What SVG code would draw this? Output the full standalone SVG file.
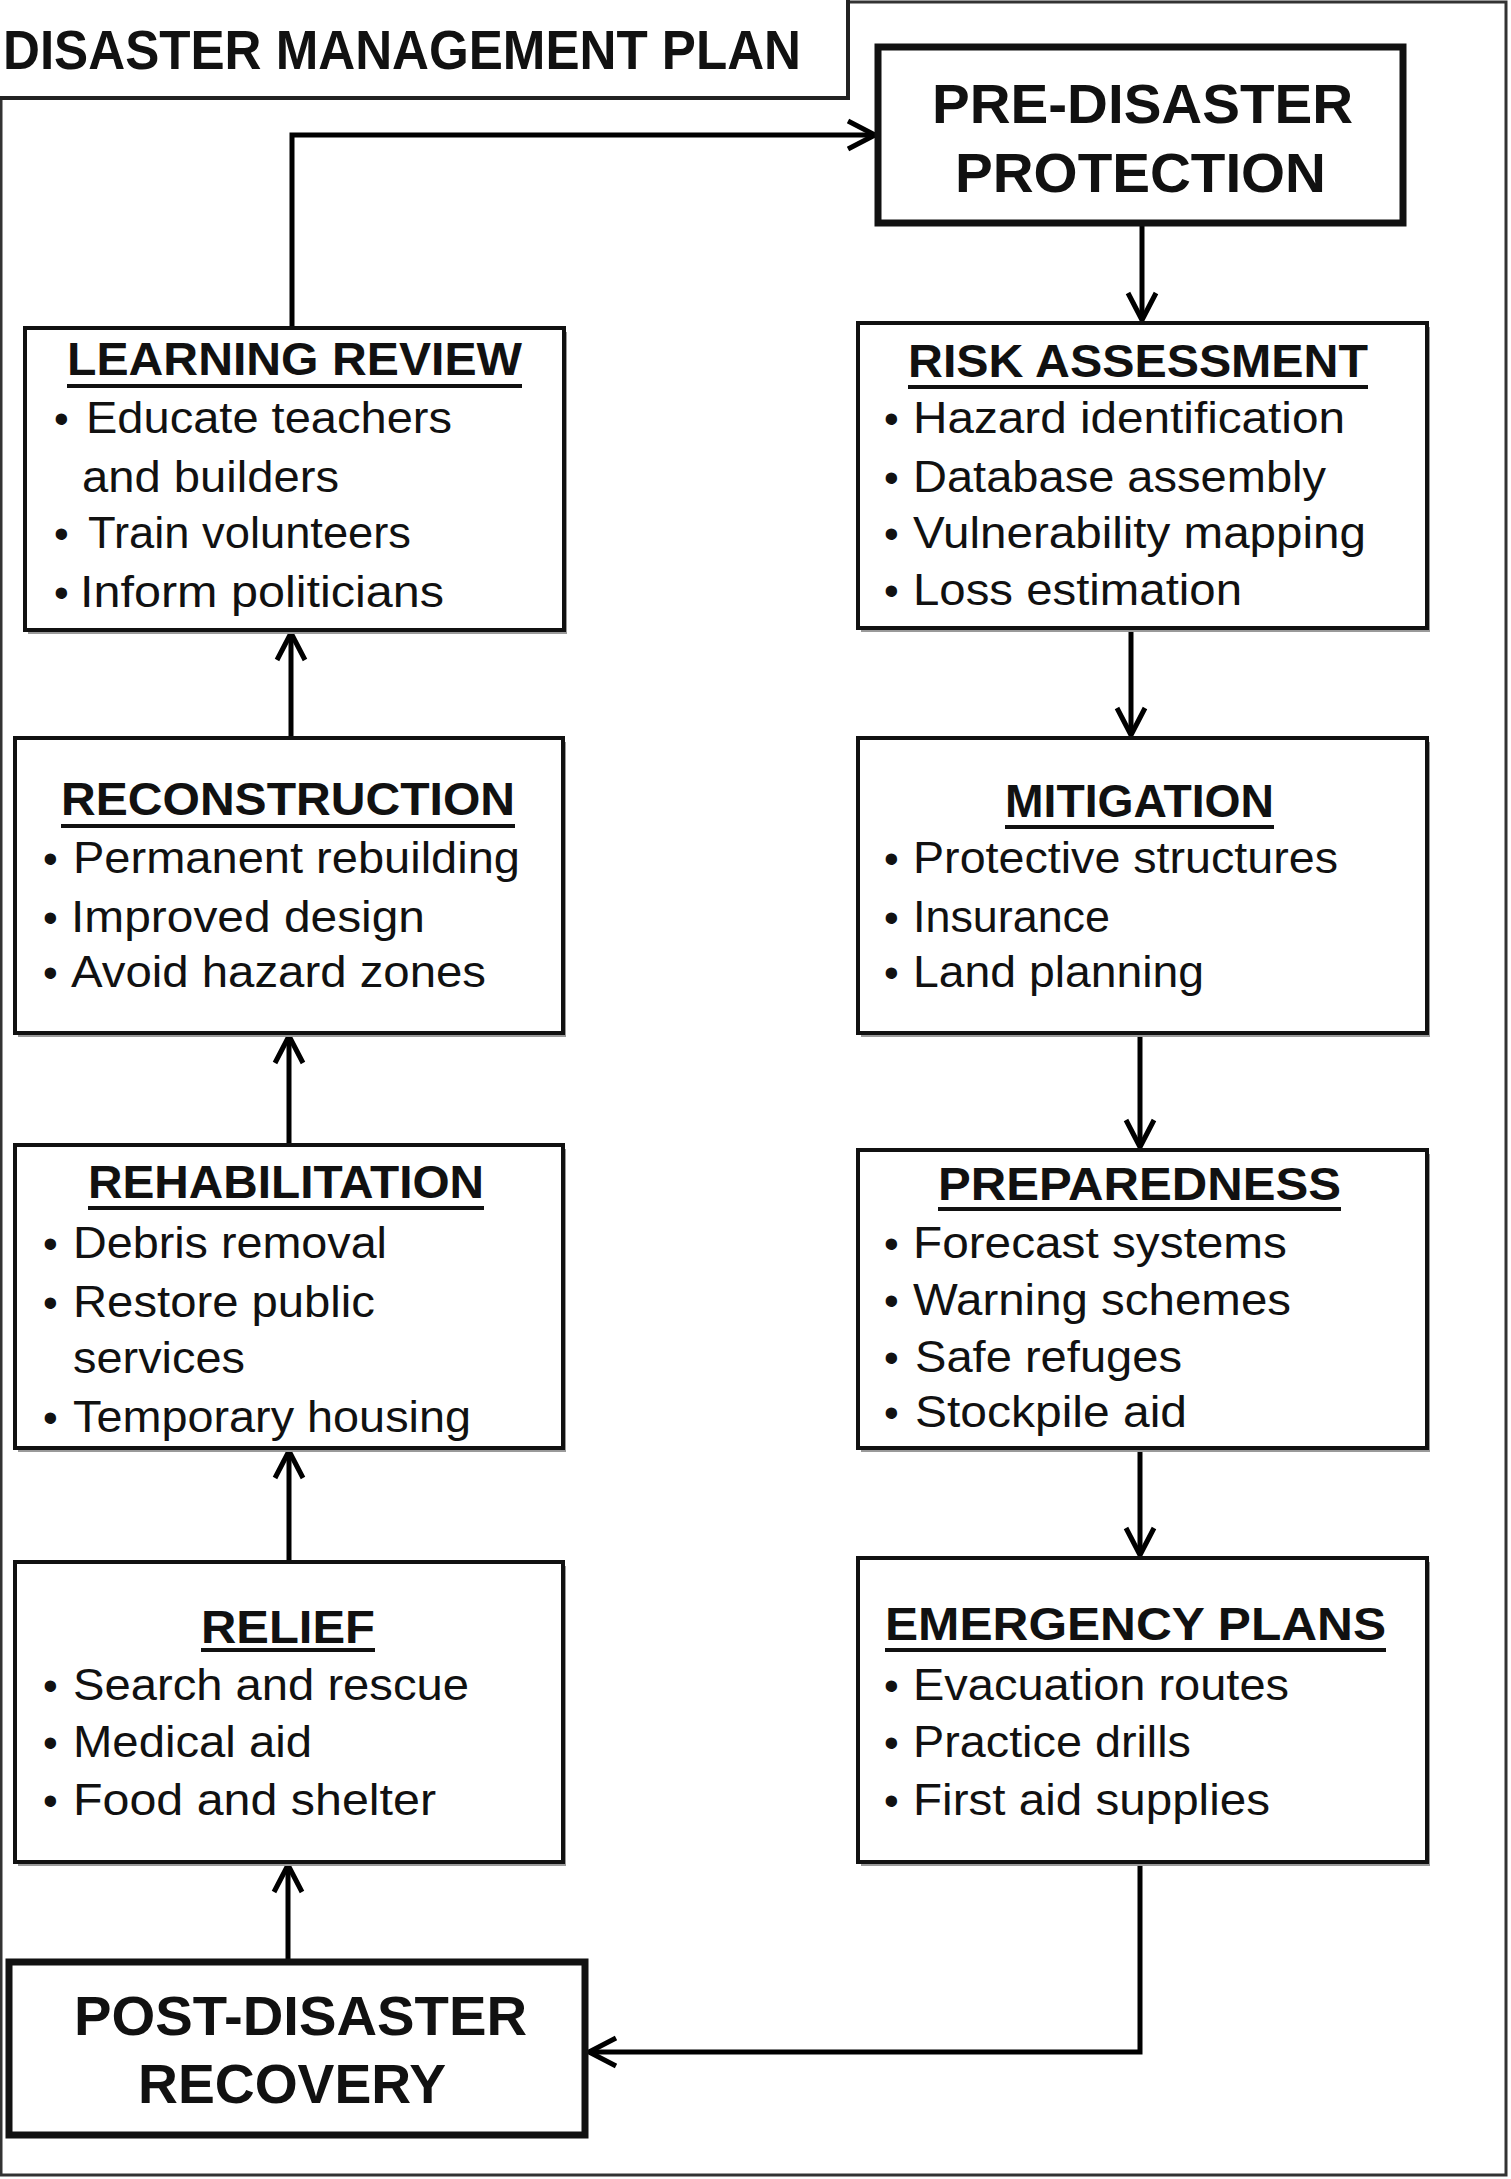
<svg xmlns="http://www.w3.org/2000/svg" width="1511" height="2179" viewBox="0 0 1511 2179">
<defs>
<style>
.box{fill:#fff;stroke:#111;stroke-width:4}
.bigbox{fill:#fff;stroke:#111;stroke-width:7}
.shadow{fill:#9a9a9a}
.head{font-family:"Liberation Sans",Arial,sans-serif;font-weight:bold;font-size:46px;fill:#111}
.big{font-family:"Liberation Sans",Arial,sans-serif;font-weight:bold;font-size:56px;fill:#111}
.item{font-family:"Liberation Sans",Arial,sans-serif;font-size:44px;fill:#111}
.bul{font-family:"Liberation Sans",Arial,sans-serif;font-size:42px;fill:#111}
.ul{stroke:#111;stroke-width:4}
.conn{fill:none;stroke:#000;stroke-width:5}
</style>
<marker id="arr" markerUnits="userSpaceOnUse" markerWidth="40" markerHeight="40" refX="30" refY="17" orient="auto">
<path d="M3,3 L30,17 L3,31" fill="none" stroke="#000" stroke-width="5"/>
</marker>
</defs>
<rect x="0" y="0" width="1511" height="2179" fill="#fff"/>
<rect x="1" y="2" width="1505" height="2173" fill="none" stroke="#333" stroke-width="3"/>

<g id="title">
<rect x="-10" y="-10" width="858" height="108" fill="#fff" stroke="#222" stroke-width="4"/>
<text class="big" x="3" y="69" font-size="54" textLength="798" lengthAdjust="spacingAndGlyphs">DISASTER  MANAGEMENT  PLAN</text>
</g>

<g id="connectors">
<path class="conn" d="M292,328 V135 H875" marker-end="url(#arr)"/>
<path class="conn" d="M1142,226 V320" marker-end="url(#arr)"/>
<path class="conn" d="M1131,628 V735" marker-end="url(#arr)"/>
<path class="conn" d="M1140,1033 V1147" marker-end="url(#arr)"/>
<path class="conn" d="M1140,1448 V1555" marker-end="url(#arr)"/>
<path class="conn" d="M1140,1862 V2052 H589" marker-end="url(#arr)"/>
<path class="conn" d="M288,1959 V1865" marker-end="url(#arr)"/>
<path class="conn" d="M289,1562 V1451" marker-end="url(#arr)"/>
<path class="conn" d="M289,1145 V1036" marker-end="url(#arr)"/>
<path class="conn" d="M291,738 V633" marker-end="url(#arr)"/>
</g>

<g id="pre-disaster">
<rect class="bigbox" x="878" y="47" width="525" height="176"/>
<text class="big" x="932" y="123" textLength="421" lengthAdjust="spacingAndGlyphs">PRE-DISASTER</text>
<text class="big" x="955" y="192" textLength="371" lengthAdjust="spacingAndGlyphs">PROTECTION</text>
</g>

<g id="learning-review">
<rect class="shadow" x="28" y="332" width="539" height="302"/>
<rect class="box" x="25" y="328" width="539" height="302"/>
<text class="head" x="67" y="375" textLength="455" lengthAdjust="spacingAndGlyphs">LEARNING REVIEW</text>
<line class="ul" x1="67" y1="386" x2="522" y2="386"/>
<text class="bul" x="54" y="433">•</text>
<text class="item" x="86" y="433" textLength="366" lengthAdjust="spacingAndGlyphs">Educate teachers</text>
<text class="item" x="82" y="492" textLength="257" lengthAdjust="spacingAndGlyphs">and builders</text>
<text class="bul" x="54" y="548">•</text>
<text class="item" x="88" y="548" textLength="323" lengthAdjust="spacingAndGlyphs">Train volunteers</text>
<text class="bul" x="54" y="607">•</text>
<text class="item" x="80" y="607" textLength="364" lengthAdjust="spacingAndGlyphs">Inform  politicians</text>
</g>

<g id="risk-assessment">
<rect class="shadow" x="861" y="327" width="569" height="305"/>
<rect class="box" x="858" y="323" width="569" height="305"/>
<text class="head" x="908" y="377" textLength="460" lengthAdjust="spacingAndGlyphs">RISK ASSESSMENT</text>
<line class="ul" x1="908" y1="387" x2="1368" y2="387"/>
<text class="bul" x="884" y="433">•</text>
<text class="item" x="913" y="433" textLength="432" lengthAdjust="spacingAndGlyphs">Hazard identification</text>
<text class="bul" x="884" y="492">•</text>
<text class="item" x="913" y="492" textLength="413" lengthAdjust="spacingAndGlyphs">Database assembly</text>
<text class="bul" x="884" y="548">•</text>
<text class="item" x="913" y="548" textLength="453" lengthAdjust="spacingAndGlyphs">Vulnerability  mapping</text>
<text class="bul" x="884" y="605">•</text>
<text class="item" x="913" y="605" textLength="329" lengthAdjust="spacingAndGlyphs">Loss estimation</text>
</g>

<g id="reconstruction">
<rect class="shadow" x="18" y="742" width="548" height="295"/>
<rect class="box" x="15" y="738" width="548" height="295"/>
<text class="head" x="61" y="815" textLength="454" lengthAdjust="spacingAndGlyphs">RECONSTRUCTION</text>
<line class="ul" x1="61" y1="826" x2="515" y2="826"/>
<text class="bul" x="43" y="873">•</text>
<text class="item" x="73" y="873" textLength="447" lengthAdjust="spacingAndGlyphs">Permanent rebuilding</text>
<text class="bul" x="43" y="932">•</text>
<text class="item" x="71" y="932" textLength="354" lengthAdjust="spacingAndGlyphs">Improved  design</text>
<text class="bul" x="43" y="987">•</text>
<text class="item" x="71" y="987" textLength="415" lengthAdjust="spacingAndGlyphs">Avoid hazard  zones</text>
</g>

<g id="mitigation">
<rect class="shadow" x="861" y="742" width="569" height="295"/>
<rect class="box" x="858" y="738" width="569" height="295"/>
<text class="head" x="1005" y="817" textLength="269" lengthAdjust="spacingAndGlyphs">MITIGATION</text>
<line class="ul" x1="1005" y1="827" x2="1274" y2="827"/>
<text class="bul" x="884" y="873">•</text>
<text class="item" x="913" y="873" textLength="425" lengthAdjust="spacingAndGlyphs">Protective structures</text>
<text class="bul" x="884" y="932">•</text>
<text class="item" x="913" y="932" textLength="197" lengthAdjust="spacingAndGlyphs">Insurance</text>
<text class="bul" x="884" y="987">•</text>
<text class="item" x="913" y="987" textLength="291" lengthAdjust="spacingAndGlyphs">Land planning</text>
</g>

<g id="rehabilitation">
<rect class="shadow" x="18" y="1149" width="548" height="303"/>
<rect class="box" x="15" y="1145" width="548" height="303"/>
<text class="head" x="88" y="1198" textLength="396" lengthAdjust="spacingAndGlyphs">REHABILITATION</text>
<line class="ul" x1="88" y1="1208" x2="484" y2="1208"/>
<text class="bul" x="43" y="1258">•</text>
<text class="item" x="73" y="1258" textLength="314" lengthAdjust="spacingAndGlyphs">Debris removal</text>
<text class="bul" x="43" y="1317">•</text>
<text class="item" x="73" y="1317" textLength="302" lengthAdjust="spacingAndGlyphs">Restore public</text>
<text class="item" x="73" y="1373" textLength="172" lengthAdjust="spacingAndGlyphs">services</text>
<text class="bul" x="43" y="1432">•</text>
<text class="item" x="73" y="1432" textLength="398" lengthAdjust="spacingAndGlyphs">Temporary  housing</text>
</g>

<g id="preparedness">
<rect class="shadow" x="861" y="1154" width="569" height="298"/>
<rect class="box" x="858" y="1150" width="569" height="298"/>
<text class="head" x="938" y="1200" textLength="403" lengthAdjust="spacingAndGlyphs">PREPAREDNESS</text>
<line class="ul" x1="938" y1="1209" x2="1341" y2="1209"/>
<text class="bul" x="884" y="1258">•</text>
<text class="item" x="913" y="1258" textLength="374" lengthAdjust="spacingAndGlyphs">Forecast systems</text>
<text class="bul" x="884" y="1315">•</text>
<text class="item" x="913" y="1315" textLength="378" lengthAdjust="spacingAndGlyphs">Warning  schemes</text>
<text class="bul" x="884" y="1372">•</text>
<text class="item" x="915" y="1372" textLength="267" lengthAdjust="spacingAndGlyphs">Safe refuges</text>
<text class="bul" x="884" y="1427">•</text>
<text class="item" x="915" y="1427" textLength="272" lengthAdjust="spacingAndGlyphs">Stockpile aid</text>
</g>

<g id="relief">
<rect class="shadow" x="18" y="1566" width="548" height="300"/>
<rect class="box" x="15" y="1562" width="548" height="300"/>
<text class="head" x="201" y="1643" textLength="174" lengthAdjust="spacingAndGlyphs">RELIEF</text>
<line class="ul" x1="201" y1="1650" x2="375" y2="1650"/>
<text class="bul" x="43" y="1700">•</text>
<text class="item" x="73" y="1700" textLength="396" lengthAdjust="spacingAndGlyphs">Search and rescue</text>
<text class="bul" x="43" y="1757">•</text>
<text class="item" x="73" y="1757" textLength="239" lengthAdjust="spacingAndGlyphs">Medical aid</text>
<text class="bul" x="43" y="1815">•</text>
<text class="item" x="73" y="1815" textLength="363" lengthAdjust="spacingAndGlyphs">Food and  shelter</text>
</g>

<g id="emergency-plans">
<rect class="shadow" x="861" y="1562" width="569" height="304"/>
<rect class="box" x="858" y="1558" width="569" height="304"/>
<text class="head" x="885" y="1640" textLength="501" lengthAdjust="spacingAndGlyphs">EMERGENCY  PLANS</text>
<line class="ul" x1="885" y1="1650" x2="1386" y2="1650"/>
<text class="bul" x="884" y="1700">•</text>
<text class="item" x="913" y="1700" textLength="376" lengthAdjust="spacingAndGlyphs">Evacuation routes</text>
<text class="bul" x="884" y="1757">•</text>
<text class="item" x="913" y="1757" textLength="278" lengthAdjust="spacingAndGlyphs">Practice drills</text>
<text class="bul" x="884" y="1815">•</text>
<text class="item" x="913" y="1815" textLength="357" lengthAdjust="spacingAndGlyphs">First aid supplies</text>
</g>

<g id="post-disaster">
<rect class="bigbox" x="9" y="1962" width="576" height="173"/>
<text class="big" x="74" y="2035" textLength="453" lengthAdjust="spacingAndGlyphs">POST-DISASTER</text>
<text class="big" x="138" y="2103" textLength="308" lengthAdjust="spacingAndGlyphs">RECOVERY</text>
</g>
</svg>
